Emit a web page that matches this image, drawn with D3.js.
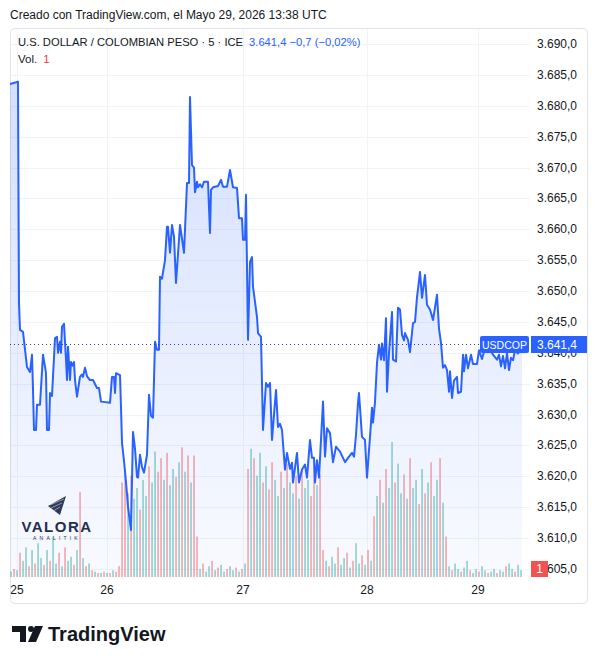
<!DOCTYPE html>
<html><head><meta charset="utf-8">
<script src="https://cdn.jsdelivr.net/npm/d3@7"></script>
<style>
html,body{margin:0;padding:0;background:#fff;}
svg{display:block;font-family:"Liberation Sans",Arial,sans-serif;}
</style></head>
<body>
<svg id="c" width="598" height="664"></svg>
<script>
// ---- DATA ----
const priceBar = [0,8,9,10,13,17,20,22,23,24,26,27,30,33,36,37,39,40,42,45,47,48,50,51,52,54,56,57,58,60,61,63,64,65,67,70,72,73,75,77,80,83,87,89,91,100,102,104,105,106,110,111,112,114,116,118,121,123,125,127,128,130,132,134,137,139,141,143,145,147,149,150,152,155,157,158,160,162,164,166,170,174,177,179,180,182,184,185,187,188,190,192,194,198,200,201,203,208,211,213,217,220,223,227,229,232,233,235,236,238,240,242,243,247,248,251,253,256,258,260,262,264,266,268,270,272,275,277,280,282,283,287,289,292,295,297,300,302,304,305,307,309,313,315,317,320,323,326,330,335,339,342,344,346,348,349,352,355,357,360,362,363,365,367,369,371,372,374,376,377,379,382,383,386,388,390,392,394,395,398,400,403,405,407,408,410,412,415,417,420,423,427,429,431,433,435,437,439,440,442,444,447,448,451,453,454,456,458,461,463,467,469,472,475,480,483,487,489,491,493,495,497,499,501,503,505,508,510,512];
const priceVal = [3683.5,3683.9,3648.0,3643.7,3643.4,3637.7,3636.9,3639.7,3634.0,3627.5,3627.5,3631.6,3631.6,3639.7,3636.7,3627.5,3627.5,3633.5,3633.0,3642.4,3642.6,3640.0,3641.8,3640.0,3644.2,3644.7,3638.9,3635.6,3641.0,3635.6,3638.5,3637.9,3638.5,3635.6,3632.9,3636.1,3636.5,3636.1,3637.6,3636.2,3635.6,3635.6,3634.3,3634.3,3632.1,3631.9,3636.1,3636.1,3633.5,3636.7,3636.4,3631.2,3625.4,3622.5,3619.1,3615.1,3611.3,3627.2,3624.5,3619.9,3619.8,3623.5,3621.5,3620.6,3623.5,3633.2,3629.8,3629.5,3641.8,3640.5,3640.5,3652.3,3652.0,3655.0,3660.4,3660.4,3656.2,3660.7,3658.8,3651.3,3660.7,3656.2,3667.5,3667.5,3681.4,3670.4,3670.0,3666.0,3667.7,3666.8,3667.3,3666.8,3667.7,3667.7,3659.4,3666.4,3666.8,3667.0,3668.0,3666.9,3666.9,3669.6,3666.8,3666.7,3661.8,3661.8,3658.3,3658.3,3665.6,3642.1,3654.7,3655.5,3650.7,3645.8,3643.2,3642.6,3627.5,3635.1,3634.5,3635.1,3625.9,3630.0,3634.0,3628.0,3628.5,3627.5,3621.1,3623.8,3621.2,3622.2,3619.0,3623.8,3619.0,3621.1,3621.9,3619.8,3625.9,3623.0,3623.0,3619.0,3622.6,3619.8,3632.1,3623.2,3627.8,3627.0,3622.3,3624.8,3624.0,3622.3,3623.2,3623.8,3623.2,3626.7,3631.9,3633.5,3626.4,3625.9,3619.8,3626.4,3631.1,3628.7,3632.0,3638.4,3641.3,3638.9,3641.5,3638.8,3645.6,3633.7,3640.0,3646.6,3638.9,3638.6,3647.3,3647.0,3642.9,3642.0,3643.2,3642.1,3640.1,3644.8,3645.0,3649.0,3650.3,3653.1,3648.9,3652.6,3647.8,3647.0,3645.3,3649.4,3643.9,3641.6,3637.6,3638.0,3637.2,3633.7,3637.0,3632.7,3635.5,3636.1,3633.5,3633.7,3639.7,3637.0,3639.7,3637.5,3639.7,3638.2,3638.2,3640.4,3639.0,3640.8,3640.5,3639.7,3638.9,3639.7,3637.8,3639.5,3637.5,3640.0,3637.2,3639.2,3638.8,3640.4,3639.9,3640.6,3641.4];
// volume per 3-bar slot; positive = up bar (teal), negative = down bar (red)
const volume = [4,-6,5,-18,12,22,-8,20,-10,25,14,-9,20,-12,30,10,-18,8,-22,12,15,-9,20,-63,14,-8,10,-5,4,-3,3,-4,3,-3,5,-4,-8,
 -70,-80,62,-75,58,66,-50,72,60,-82,70,93,-78,-88,72,-92,68,80,-74,85,-96,78,-90,70,-90,-30,
 6,-10,4,8,-12,5,-7,9,4,-6,8,5,-7,4,-6,10,
 -80,95,-88,75,92,-70,82,-65,-85,72,60,-78,66,-84,70,62,-75,58,-80,66,72,-60,-85,68,-76,-20,
 12,-8,15,10,-22,9,14,-18,7,-12,25,10,-16,9,-20,12,-45,
 60,-72,55,-80,66,100,-70,84,62,-76,58,-88,66,72,-54,80,-62,70,-85,60,72,-88,55,-30,
 8,-5,10,6,-4,7,12,-5,3,6,-4,8,5,-3,4,6,-3,5,4,-8,10,6,-4,9,5];
const priceTicks = [3605,3610,3615,3620,3625,3630,3635,3640,3645,3650,3655,3660,3665,3670,3675,3680,3685,3690];
const dayTicks = [{label:"25",bar:7},{label:"26",bar:97},{label:"27",bar:233},{label:"28",bar:357},{label:"29",bar:468}];
const lastPrice = 3641.4;
const lastVolume = 1;
const symbol = "USDCOP";
const titleText = "U.S. DOLLAR / COLOMBIAN PESO · 5 · ICE";
const changeText = "3.641,4  −0,7 (−0,02%)";
const createdText = "Creado con TradingView.com, el Mayo 29, 2026 13:38 UTC";

// ---- CHART ----
const svg = d3.select("#c");
const loc = d3.formatLocale({decimal:",",thousands:".",grouping:[3],currency:["",""]});
const fmt = loc.format(",.1f");
const L = 10, R = 530, paneBottom = 577;
const x = d3.scaleLinear().domain([0,520]).range([L,R]);
const y = d3.scaleLinear().domain([3605,3690]).range([569,44]);
const yv = d3.scaleLinear().domain([0,100]).range([paneBottom,442]);

const defs = svg.append("defs");
const g1 = defs.append("linearGradient").attr("id","ar").attr("x1",0).attr("x2",0)
  .attr("gradientUnits","userSpaceOnUse").attr("y1",80).attr("y2",paneBottom);
g1.append("stop").attr("offset",0).attr("stop-color","rgb(41,98,255)").attr("stop-opacity",0.2);
g1.append("stop").attr("offset",1).attr("stop-color","rgb(41,98,255)").attr("stop-opacity",0.03);
defs.append("clipPath").attr("id","pane").append("rect").attr("x",L).attr("y",29).attr("width",R-L).attr("height",paneBottom-29);

// header
svg.append("text").attr("x",10).attr("y",19).attr("font-size",12).attr("fill","#131722").text(createdText);

// frame
svg.append("rect").attr("x",10.5).attr("y",28.5).attr("width",577).attr("height",575).attr("rx",4)
  .attr("fill","none").attr("stroke","#e0e3eb");

// grid
const grid = svg.append("g").attr("stroke","#f0f3fa").attr("stroke-width",1);
priceTicks.forEach(t=>grid.append("line").attr("x1",L+1).attr("x2",R).attr("y1",Math.round(y(t))+0.5).attr("y2",Math.round(y(t))+0.5));
dayTicks.forEach(d=>grid.append("line").attr("x1",Math.round(x(d.bar))+0.5).attr("x2",Math.round(x(d.bar))+0.5).attr("y1",29).attr("y2",paneBottom));

const pane = svg.append("g").attr("clip-path","url(#pane)");

// volume
pane.append("g").selectAll("rect").data(volume).join("rect")
  .attr("x",(d,i)=>x(1+3*i)-0.75).attr("width",1.6)
  .attr("y",d=>yv(Math.abs(d))).attr("height",d=>paneBottom-yv(Math.abs(d)))
  .attr("fill",d=>d>=0?"rgba(38,166,154,0.5)":"rgba(239,83,80,0.5)");

const pts = priceBar.map((b,i)=>[b,priceVal[i]]);
pane.append("path").datum(pts)
  .attr("d",d3.area().x(d=>x(d[0])).y0(paneBottom).y1(d=>y(d[1])))
  .attr("fill","url(#ar)");
pane.append("path").datum(pts)
  .attr("d",d3.line().x(d=>x(d[0])).y(d=>y(d[1])))
  .attr("fill","none").attr("stroke","#2962ff").attr("stroke-width",2).attr("stroke-linejoin","round");

// last price dotted line
const ly = Math.round(y(lastPrice))+0.5;
svg.append("line").attr("x1",L).attr("x2",480).attr("y1",ly).attr("y2",ly)
  .attr("stroke","#2a3f8f").attr("stroke-dasharray","1 3").attr("stroke-width",1);

// watermark logo
const wm = svg.append("g");
wm.append("path").attr("d","M48,506 L66,496 L60,515 L56,512 Z").attr("fill","#2c3a5c");
wm.append("path").attr("d","M50,505 L64,499 M51,508 L62,503 M53,511 L60,507").attr("stroke","#ffffff").attr("stroke-width",0.8).attr("opacity",0.6);
wm.append("text").attr("x",57).attr("y",532).attr("text-anchor","middle").attr("font-size",15).attr("font-weight","bold")
  .attr("letter-spacing",1.5).attr("fill","#232f4b").text("VALORA");
wm.append("text").attr("x",57).attr("y",540).attr("text-anchor","middle").attr("font-size",5)
  .attr("letter-spacing",3.2).attr("fill","#232f4b").text("ANALITIK");

// right axis labels
const ax = svg.append("g").attr("font-size",12).attr("fill","#131722");
priceTicks.forEach(t=>ax.append("text").attr("x",537).attr("y",y(t)+4).text(fmt(t)));

// time axis labels
const tx = svg.append("g").attr("font-size",12).attr("fill","#131722").attr("text-anchor","middle");
dayTicks.forEach(d=>tx.append("text").attr("x",x(d.bar)).attr("y",594).text(d.label));

// price labels
svg.append("rect").attr("x",480).attr("y",ly-8.5).attr("width",49).attr("height",17).attr("rx",2).attr("fill","#2962ff");
svg.append("text").attr("x",504.5).attr("y",ly+4).attr("text-anchor","middle").attr("font-size",10.5).attr("fill","#fff").text(symbol);
svg.append("rect").attr("x",531).attr("y",ly-8.5).attr("width",56).attr("height",17).attr("fill","#2962ff");
svg.append("text").attr("x",537).attr("y",ly+4).attr("font-size",12).attr("fill","#fff").text(fmt(lastPrice));

// volume label
svg.append("rect").attr("x",531).attr("y",561).attr("width",17).attr("height",16).attr("fill","#f05350");
svg.append("text").attr("x",539.5).attr("y",573).attr("text-anchor","middle").attr("font-size",12).attr("fill","#fff").text(lastVolume);

// legend
const lg = svg.append("text").attr("x",18).attr("y",46).attr("font-size",11.2).attr("fill","#131722");
lg.append("tspan").text(titleText);
lg.append("tspan").attr("dx",6).attr("fill","#2962ff").text(changeText);
const lv = svg.append("text").attr("x",18).attr("y",63).attr("font-size",11.5).attr("fill","#131722");
lv.append("tspan").text("Vol.");
lv.append("tspan").attr("dx",6).attr("fill","#f23645").text(lastVolume);

// TradingView footer logo
const tv = svg.append("g").attr("fill","#131722");
tv.append("path").attr("d","M12,626 H26 V642 H20 V632 H12 Z");
tv.append("circle").attr("cx",31).attr("cy",629).attr("r",3);
tv.append("path").attr("d","M35,626 H43 L36,642 H28 Z");
tv.append("text").attr("x",48).attr("y",641).attr("font-size",20).attr("font-weight","bold").text("TradingView");
</script>
</body></html>
